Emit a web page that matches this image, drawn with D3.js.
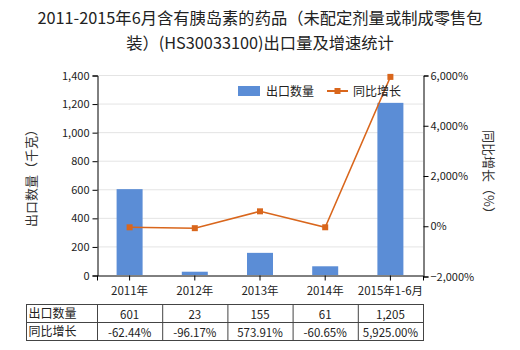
<!DOCTYPE html>
<html><head><meta charset="utf-8">
<script src="https://cdn.jsdelivr.net/npm/d3@7"></script>
<style>body{margin:0;background:#fff}svg{display:block}text{font-family:"Noto Sans CJK SC","Noto Sans",sans-serif}</style>
</head><body><svg id="c" width="520" height="350"></svg>
<script>
const categories = ["2011年","2012年","2013年","2014年","2015年1-6月"];
const exportQty = [601, 23, 155, 61, 1205];
const growth = [-62.44, -96.17, 573.91, -60.65, 5925.00];
const qtyLabels = ["601","23","155","61","1,205"];
const growthLabels = ["-62.44%","-96.17%","573.91%","-60.65%","5,925.00%"];
const leftTicks = [0,200,400,600,800,1000,1200,1400];
const rightTicks = [-2000,0,2000,4000,6000];
const titleLines = ["2011-2015年6月含有胰岛素的药品（未配定剂量或制成零售包","装）(HS30033100)出口量及增速统计"];

const svg = d3.select("#c");
const L = 97, R = 423, T = 75, B = 275;
const x = d3.scaleBand().domain(categories).range([L, R]).paddingInner(0).paddingOuter(0);
const yL = d3.scaleLinear().domain([0,1400]).range([B, T]);
const yR = d3.scaleLinear().domain([-2000,6000]).range([B+1, T]);
const barColor = "#5b8dd6", lineColor = "#d9661c";

// title
svg.selectAll("text.title").data(titleLines).join("text")
  .attr("x", 260).attr("y", (d,i)=>24+i*25).attr("text-anchor","middle")
  .attr("font-size", 16.3).attr("fill","#222").text(d=>d);

// gridlines
svg.append("g").selectAll("line").data(leftTicks.slice(1)).join("line")
  .attr("x1", L).attr("x2", R).attr("y1", d=>yL(d)+0.5).attr("y2", d=>yL(d)+0.5)
  .attr("stroke","#e4e4e4");

// bars
const bw = 26;
svg.append("g").selectAll("rect").data(exportQty).join("rect")
  .attr("x",(d,i)=>x(categories[i])+x.bandwidth()/2-bw/2)
  .attr("width", bw)
  .attr("y", d=>yL(d)).attr("height", d=>B-yL(d))
  .attr("fill", barColor);

// axes
const axL = d3.axisLeft(yL).tickValues(leftTicks).tickFormat(d3.format(",")).tickSize(5).tickPadding(3);
const gL = svg.append("g").attr("transform",`translate(${L+0.5},0.5)`).call(axL);
const axR = d3.axisRight(yR).tickValues(rightTicks).tickFormat(d=>d3.format(",")(d)+"%").tickSize(5).tickPadding(2);
const gR = svg.append("g").attr("transform",`translate(${R+0.5},0.5)`).call(axR);
const axB = d3.axisBottom(x).tickSize(5).tickPadding(6);
const gB = svg.append("g").attr("transform",`translate(0,${B+0.5})`).call(axB);
[gL,gR,gB].forEach(g=>{
  g.selectAll("path,line").attr("stroke","#000");
  g.selectAll("text").attr("font-size",11).attr("fill","#222");
});
gB.selectAll("text").attr("font-size",11.5);

// line
const cx = i => x(categories[i]) + x.bandwidth()/2;
svg.append("path").datum(growth)
  .attr("d", d3.line().x((d,i)=>cx(i)).y(d=>yR(d)))
  .attr("fill","none").attr("stroke", lineColor).attr("stroke-width",1.5);
svg.append("g").selectAll("rect").data(growth).join("rect")
  .attr("x",(d,i)=>cx(i)-3).attr("y", d=>yR(d)-3).attr("width",6).attr("height",6)
  .attr("fill", lineColor);

// axis titles
svg.append("text").attr("transform","translate(36,175) rotate(-90)").attr("text-anchor","middle")
  .attr("font-size",13).attr("fill","#333").text("出口数量（千克）");
svg.append("text").attr("transform","translate(484,175) rotate(90)").attr("text-anchor","middle")
  .attr("font-size",13).attr("fill","#333").text("同比增长（%）");

// legend
const lg = svg.append("g");
lg.append("rect").attr("x",238).attr("y",86).attr("width",22).attr("height",10).attr("fill",barColor);
lg.append("text").attr("x",266).attr("y",95.5).attr("font-size",12).attr("fill","#222").text("出口数量");
lg.append("line").attr("x1",327).attr("x2",348).attr("y1",91).attr("y2",91).attr("stroke",lineColor).attr("stroke-width",2);
lg.append("rect").attr("x",334.5).attr("y",88).attr("width",6).attr("height",6).attr("fill",lineColor);
lg.append("text").attr("x",353).attr("y",95.5).attr("font-size",12).attr("fill","#222").text("同比增长");

// table
const tb = svg.append("g");
const tL = 26.5, tTop = 304.5, rowH = 18;
const rows = [["出口数量", qtyLabels],["同比增长", growthLabels]];
tb.append("rect").attr("x",tL).attr("y",tTop).attr("width",R-tL+0.5).attr("height",rowH*2)
  .attr("fill","none").attr("stroke","#444");
tb.append("line").attr("x1",tL).attr("x2",R+0.5).attr("y1",tTop+rowH).attr("y2",tTop+rowH).attr("stroke","#444");
tb.selectAll("line.v").data(categories).join("line")
  .attr("x1",d=>x(d)+0.5).attr("x2",d=>x(d)+0.5).attr("y1",tTop).attr("y2",tTop+rowH*2).attr("stroke","#444");
rows.forEach((r,ri)=>{
  tb.append("text").attr("x",tL+2).attr("y",tTop+ri*rowH+13.5).attr("font-size",12).attr("fill","#222").text(r[0]);
  tb.selectAll(null).data(r[1]).join("text")
    .attr("x",(d,i)=>cx(i)).attr("y",tTop+ri*rowH+14).attr("text-anchor","middle")
    .attr("font-size",11.5).attr("fill","#222").text(d=>d);
});
</script></body></html>
